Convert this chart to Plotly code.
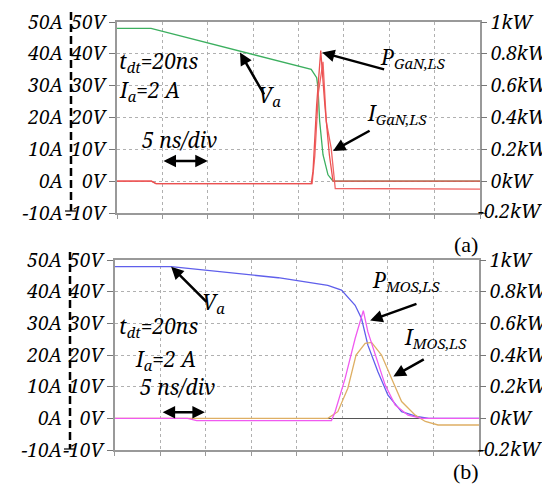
import plotly.graph_objects as go

# ---------------- Panel (a) data ----------------
t_va_a = [0, 3.75, 21.4, 22.0, 22.15, 22.33, 22.7, 23.25, 23.8, 40]
va_a = [48, 48, 35.1, 32.5, 29.3, 18.9, 8.3, 2, 0, 0]

t_p_a = [0, 3.8, 4.3, 21.4, 21.6, 22.0, 22.45, 22.9, 23.4, 23.8, 40]
p_a = [0, 0, -0.015, -0.015, 0.063, 0.48, 0.82, 0.48, 0.166, 0.0, 0.0]

t_i_a = [0, 3.8, 4.3, 21.5, 21.8, 22.2, 22.7, 23.06, 23.6, 23.9, 24.05, 40]
i_a = [0, 0, -0.8, -0.8, 8, 28, 37.5, 18.8, 10.4, 3.1, -2.3, -2.5]

# ---------------- Panel (b) data ----------------
t_va_b = [0, 6.2, 17.95, 23.4, 24.9, 26.4, 27.1, 27.8, 28.9, 30.0, 31.5, 33.3, 34.5, 40]
va_b = [47.9, 47.9, 44.4, 42, 40.5, 35.7, 31.5, 23.1, 14.7, 7.3, 2.1, 0.5, 0, 0]

t_p_b = [0, 8.0, 9.0, 23.8, 24.2, 25.3, 26.4, 27.3, 27.8, 28.6, 29.7, 30.8, 32.2, 33.7, 40]
p_b = [0, 0, -0.014, -0.014, 0.042, 0.252, 0.504, 0.68, 0.546, 0.40, 0.21, 0.084, 0.02, 0, 0]

t_i_b = [0, 23.4, 24.5, 25.6, 26.5, 27.5, 28.2, 29.3, 30.4, 31.5, 33.0, 34.1, 35.5, 40]
i_b = [0, 0, 2.1, 9.5, 20, 23.7, 24, 20, 12.6, 5.3, 1, -1, -2.1, -2.1]

# ---------------- Tick labels ----------------
v_ticks = [-10, 0, 10, 20, 30, 40, 50]
v_text = ["\u221210V", "0V", "10V", "20V", "30V", "40V", "50V"]
a_text = ["\u221210A", "0A", "10A", "20A", "30A", "40A", "50A"]
kw_ticks = [-0.2, 0, 0.2, 0.4, 0.6, 0.8, 1.0]
kw_text = ["", "0kW", "0.2kW", "0.4kW", "0.6kW", "0.8kW", "1kW"]
kw_low_label = "\u22120.2kW"

W, H = 550, 486
ML, MR, MT, MB = 0, 78, 14, 44
PW = W - ML - MR
PH = H - MT - MB

def px_x(p):
    return (p - ML) / PW

def px_y(p):
    return (H - MB - p) / PH

FONT = "Noto Serif"
tickfont = dict(family=FONT, size=19, color="black", style="italic")
grid = dict(showgrid=True, gridcolor="#b0b0b0", griddash="dot", gridwidth=1)
frame = dict(showline=True, linecolor="#999999", linewidth=1.5, mirror=True)

fig = go.Figure()

fig.add_trace(go.Scatter(x=t_va_a, y=va_a, mode="lines", line=dict(color="rgb(60,175,95)", width=1.3),
                         xaxis="x", yaxis="y", showlegend=False))
fig.add_trace(go.Scatter(x=t_i_a, y=i_a, mode="lines", line=dict(color="rgb(240,100,100)", width=1.3),
                         xaxis="x", yaxis="y3", showlegend=False))
fig.add_trace(go.Scatter(x=t_p_a, y=p_a, mode="lines", line=dict(color="rgb(235,80,80)", width=1.3),
                         xaxis="x", yaxis="y4", showlegend=False))

fig.add_trace(go.Scatter(x=t_va_b, y=va_b, mode="lines", line=dict(color="rgb(95,95,235)", width=1.3),
                         xaxis="x2", yaxis="y2", showlegend=False))
fig.add_trace(go.Scatter(x=t_i_b, y=i_b, mode="lines", line=dict(color="rgb(222,175,100)", width=1.3),
                         xaxis="x2", yaxis="y5", showlegend=False))
fig.add_trace(go.Scatter(x=t_p_b, y=p_b, mode="lines", line=dict(color="rgb(240,90,240)", width=1.3),
                         xaxis="x2", yaxis="y6", showlegend=False))

top_dom = [px_y(205), 1]
bot_dom = [0, px_y(252)]

xcommon = dict(range=[0, 40], dtick=5, tick0=0, showticklabels=False, ticks="outside",
               ticklen=4, tickcolor="#999999", zeroline=False, **grid, **frame)
vcommon = dict(range=[-10, 50], tickmode="array", tickvals=v_ticks, ticktext=v_text,
               ticks="outside", ticklen=6, tickcolor="#777777", tickfont=tickfont,
               zerolinecolor="#555555", zerolinewidth=1, **grid, **frame)
acommon = dict(range=[-10, 50], tickmode="array", tickvals=v_ticks, ticktext=a_text,
               ticks="", tickfont=tickfont, showgrid=False, zeroline=False, showline=False,
               side="left", anchor="free")
kcommon = dict(range=[-0.2, 1.0], tickmode="array", tickvals=kw_ticks, ticktext=kw_text,
               ticks="outside", ticklen=6, tickcolor="#777777", tickfont=tickfont,
               showgrid=False, zeroline=False, showline=False, side="right")

fig.update_layout(
    width=W, height=H,
    margin=dict(l=ML, r=MR, t=MT, b=MB),
    paper_bgcolor="white", plot_bgcolor="white",
    xaxis=dict(domain=[px_x(109), 1], anchor="y", **xcommon),
    yaxis=dict(domain=top_dom, anchor="x", zeroline=False, **vcommon),
    yaxis3=dict(overlaying="y", position=px_x(55), **acommon),
    yaxis4=dict(overlaying="y", anchor="x", **kcommon),
    xaxis2=dict(domain=[px_x(106.7), px_x(471)], anchor="y2", **xcommon),
    yaxis2=dict(domain=bot_dom, anchor="x2", zeroline=True, **vcommon),
    yaxis5=dict(overlaying="y2", position=px_x(54), **acommon),
    yaxis6=dict(overlaying="y2", anchor="x2", **kcommon),
)

# dashed separator lines between A and V label columns
shapes = [
    dict(type="line", xref="paper", yref="paper", x0=px_x(63), x1=px_x(63), y0=px_y(4), y1=px_y(203),
         line=dict(color="black", width=2.5, dash="8px,4px")),
    dict(type="line", xref="paper", yref="paper", x0=px_x(57), x1=px_x(68), y0=px_y(203), y1=px_y(203),
         line=dict(color="black", width=1.2)),
    dict(type="line", xref="paper", yref="paper", x0=px_x(62), x1=px_x(62), y0=px_y(244), y1=px_y(441),
         line=dict(color="black", width=2.5, dash="8px,4px")),
    dict(type="line", xref="paper", yref="paper", x0=px_x(56), x1=px_x(67), y0=px_y(441), y1=px_y(441),
         line=dict(color="black", width=1.2)),
]
fig.update_layout(shapes=shapes)

afont = dict(family=FONT, size=21, color="black", style="italic")
ann = []

def text(xr, yr, x, y, s, anchor="left"):
    ann.append(dict(xref=xr, yref=yr, x=x, y=y, text=s, showarrow=False, xanchor=anchor,
                    yanchor="middle", font=afont))

def arrow(xr, yr, x0, y0, x1, y1, both=False):
    ann.append(dict(xref=xr, yref=yr, axref=xr, ayref=yr, x=x1, y=y1, ax=x0, ay=y0, text="",
                    showarrow=True, arrowhead=2, arrowsize=1, arrowwidth=2.5, arrowcolor="black",
                    arrowside="end+start" if both else "end"))

# Panel (a)
text("x", "y", 0.0, 37.3, "t<sub>dt</sub>=20ns")
text("x", "y", 0.0, 28.3, "I<sub>a</sub>=2 A")
text("x", "y", 2.5, 13.0, "5 ns/div")
arrow("x", "y", 4.96, 6.3, 10.0, 6.3, both=True)
text("x", "y", 15.3, 26.8, "V<sub>a</sub>")
arrow("x", "y", 16.3, 26.8, 13.55, 40.4)
text("x", "y", 28.8, 38.8, "P<sub>GaN,LS</sub>")
arrow("x", "y", 29.6, 35.0, 22.6, 40.4)
text("x", "y", 27.3, 21.0, "I<sub>GaN,LS</sub>")
arrow("x", "y", 28.0, 16.1, 23.8, 9.5)

# Panel (b)
text("x2", "y2", 9.4, 36.4, "V<sub>a</sub>")
arrow("x2", "y2", 10.25, 36.3, 6.2, 47.9)
text("x2", "y2", 0.2, 28.8, "t<sub>dt</sub>=20ns")
text("x2", "y2", 2.0, 18.4, "I<sub>a</sub>=2 A")
text("x2", "y2", 2.6, 9.8, "5 ns/div")
arrow("x2", "y2", 5.1, 1.9, 9.9, 1.9, both=True)
text("x2", "y2", 28.05, 43.3, "P<sub>MOS,LS</sub>")
arrow("x2", "y2", 33.3, 36.3, 28.05, 30.9)
text("x2", "y2", 31.5, 25.3, "I<sub>MOS,LS</sub>")
arrow("x2", "y2", 34.1, 18.9, 30.6, 13.2)

# lowest power tick label, placed so it overlaps the tick like the original
for yy in (203, 441):
    ann.append(dict(xref="paper", yref="paper", x=px_x(468), y=px_y(yy), text=kw_low_label,
                    showarrow=False, xanchor="left", yanchor="middle", font=tickfont))

lab = dict(family="Liberation Serif", size=22, color="black")
ann.append(dict(xref="paper", yref="paper", x=px_x(458), y=px_y(236), text="(a)", showarrow=False,
                xanchor="center", yanchor="middle", font=lab))
ann.append(dict(xref="paper", yref="paper", x=px_x(458), y=px_y(463), text="(b)", showarrow=False,
                xanchor="center", yanchor="middle", font=lab))

fig.update_layout(annotations=ann)

fig.write_html("out.html")
